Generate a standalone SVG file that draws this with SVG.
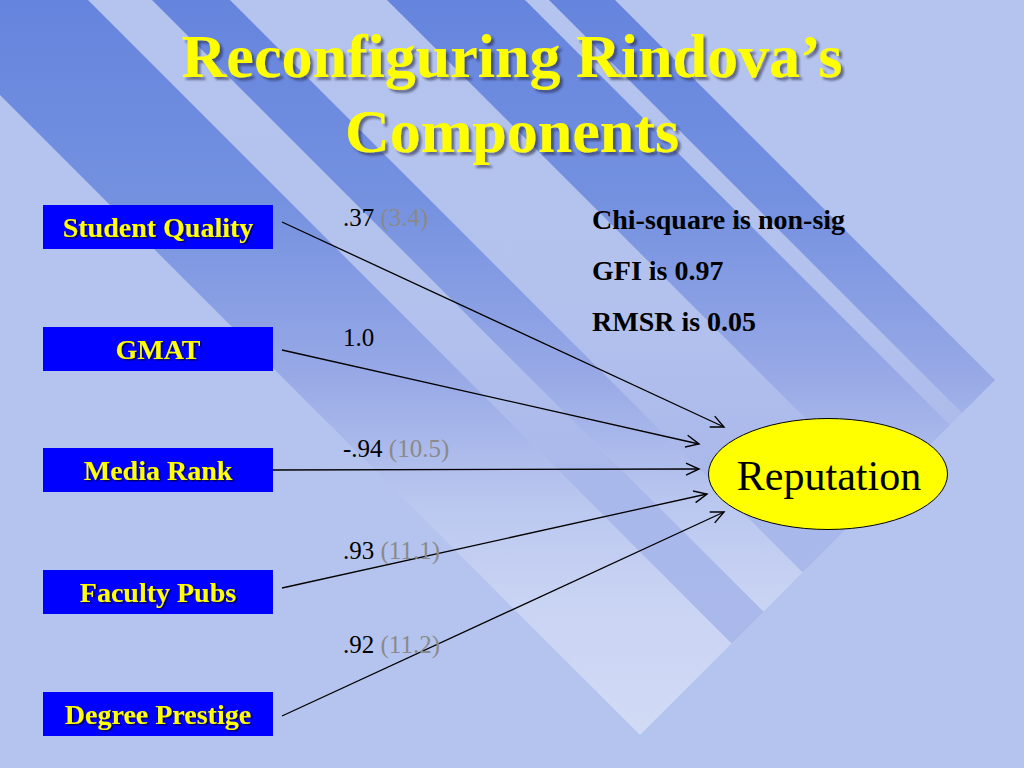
<svg xmlns="http://www.w3.org/2000/svg" width="1024" height="768" viewBox="0 0 1024 768">
  <defs>
    <linearGradient id="stripeGrad" gradientUnits="userSpaceOnUse" x1="0" y1="0" x2="0" y2="740">
      <stop offset="0" stop-color="#6584DD"/>
      <stop offset="0.27" stop-color="#7491E0"/>
      <stop offset="0.51" stop-color="#98A9E6"/>
      <stop offset="0.68" stop-color="#BAC7EF"/>
      <stop offset="0.81" stop-color="#C9D3F3"/>
      <stop offset="1" stop-color="#D2DBF5"/>
    </linearGradient>
    <linearGradient id="gapGrad" gradientUnits="userSpaceOnUse" x1="0" y1="0" x2="0" y2="740">
      <stop offset="0" stop-color="#B5C4EE"/>
      <stop offset="0.4" stop-color="#B3C2ED"/>
      <stop offset="0.65" stop-color="#A9B8EA"/>
      <stop offset="1" stop-color="#AAB9EA"/>
    </linearGradient>
    <filter id="titleShadow" x="-5%" y="-20%" width="110%" height="140%">
      <feDropShadow dx="3" dy="3" stdDeviation="1.2" flood-color="#1A1A40" flood-opacity="0.55"/>
    </filter>
    <filter id="labelShadow" x="-5%" y="-20%" width="110%" height="140%">
      <feDropShadow dx="1.5" dy="1.5" stdDeviation="0.6" flood-color="#000000" flood-opacity="0.6"/>
    </filter>
    <marker id="arrow" markerUnits="userSpaceOnUse" markerWidth="16" markerHeight="14" refX="14" refY="7" orient="auto">
      <path d="M1,1 L14,7 L1,13" fill="none" stroke="#000" stroke-width="1.4"/>
    </marker>
    <style>
      .stripe { fill: url(#stripeGrad); }
      .gap { fill: url(#gapGrad); }
      .box { fill: #0000FF; }
      .boxText { font-family: "Liberation Serif", "Times New Roman", serif; font-weight: bold; font-size: 28px; fill: #FFFF00; text-anchor: middle; filter: url(#labelShadow); }
      .title { font-family: "Liberation Serif", "Times New Roman", serif; font-weight: bold; font-size: 62px; fill: #FFFF00; text-anchor: middle; filter: url(#titleShadow); }
      .coef { font-family: "Liberation Serif", "Times New Roman", serif; font-size: 25px; fill: #000; }
      .tval { fill: #8A8A8A; }
      .stat { font-family: "Liberation Serif", "Times New Roman", serif; font-weight: bold; font-size: 28px; fill: #000; }
      .conn { stroke: #000; stroke-width: 1.3; fill: none; marker-end: url(#arrow); }
    </style>
  </defs>

  <!-- background -->
  <rect x="0" y="0" width="1024" height="768" fill="#B5C4EE"/>
  <g id="background-stripes">
    <polygon class="gap" points="88,0 152,0 763.5,611.5 731.5,643.5"/>
    <polygon class="gap" points="230,0 387,0 881,494 802.5,572.5"/>
    <polygon class="gap" points="525,0 549,0 962,413 950,425"/>
    <polygon class="stripe" points="-95,0 88,0 731.5,643.5 640,735"/>
    <polygon class="stripe" points="152,0 230,0 802.5,572.5 763.5,611.5"/>
    <polygon class="stripe" points="387,0 525,0 950,425 881,494"/>
    <polygon class="stripe" points="549,0 615,0 995,380 962,413"/>
  </g>

  <!-- title -->
  <g id="title">
    <text class="title" x="512" y="77">Reconfiguring Rindova’s</text>
    <text class="title" x="512" y="152">Components</text>
  </g>

  <!-- connectors -->
  <g id="connectors">
    <line class="conn" x1="282" y1="222" x2="724" y2="427"/>
    <line class="conn" x1="282" y1="350" x2="699" y2="444"/>
    <line class="conn" x1="273" y1="470" x2="699" y2="469"/>
    <line class="conn" x1="282" y1="588" x2="707" y2="494"/>
    <line class="conn" x1="282" y1="716" x2="724" y2="512"/>
  </g>

  <!-- connector labels -->
  <g id="connector-labels">
    <text class="coef" x="343" y="226">.37 <tspan class="tval">(3.4)</tspan></text>
    <text class="coef" x="343" y="346">1.0</text>
    <text class="coef" x="343" y="457">-.94 <tspan class="tval">(10.5)</tspan></text>
    <text class="coef" x="343" y="559">.93 <tspan class="tval">(11.1)</tspan></text>
    <text class="coef" x="343" y="653">.92 <tspan class="tval">(11.2)</tspan></text>
  </g>

  <!-- nodes -->
  <g id="node-student-quality">
    <rect class="box" x="43" y="205" width="230" height="44"/>
    <text class="boxText" x="158" y="237">Student Quality</text>
  </g>
  <g id="node-gmat">
    <rect class="box" x="43" y="327" width="230" height="44"/>
    <text class="boxText" x="158" y="359">GMAT</text>
  </g>
  <g id="node-media-rank">
    <rect class="box" x="43" y="448" width="230" height="44"/>
    <text class="boxText" x="158" y="480">Media Rank</text>
  </g>
  <g id="node-faculty-pubs">
    <rect class="box" x="43" y="570" width="230" height="44"/>
    <text class="boxText" x="158" y="602">Faculty Pubs</text>
  </g>
  <g id="node-degree-prestige">
    <rect class="box" x="43" y="692" width="230" height="44"/>
    <text class="boxText" x="158" y="724">Degree Prestige</text>
  </g>
  <g id="node-reputation">
    <ellipse cx="828" cy="474" rx="119.5" ry="55.5" fill="#FFFF00" stroke="#000" stroke-width="1"/>
    <text x="829" y="490" font-family="'Liberation Serif', 'Times New Roman', serif" font-size="42" fill="#000" text-anchor="middle">Reputation</text>
  </g>

  <!-- fit statistics -->
  <g id="fit-stats">
    <text class="stat" x="592" y="229">Chi-square is non-sig</text>
    <text class="stat" x="592" y="280">GFI is 0.97</text>
    <text class="stat" x="592" y="331">RMSR is 0.05</text>
  </g>
</svg>
